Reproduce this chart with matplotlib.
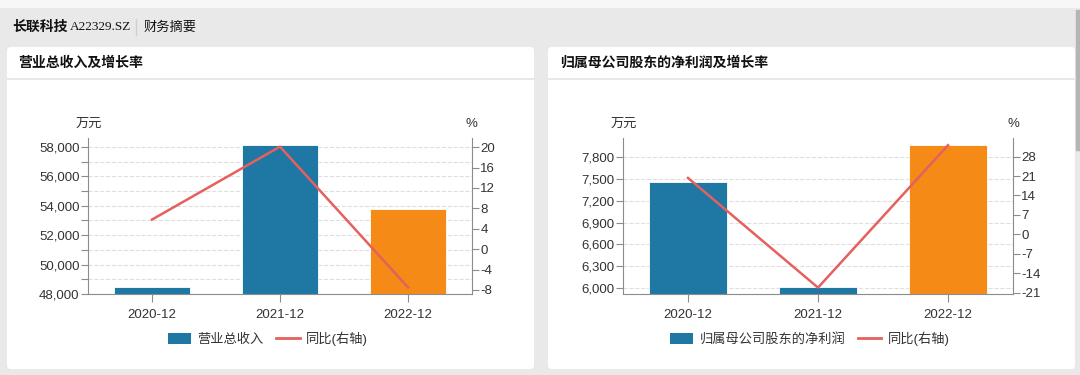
import matplotlib.pyplot as plt
import matplotlib.patches as mpatches
from matplotlib.patches import FancyBboxPatch, Patch
from matplotlib.lines import Line2D
from matplotlib.ticker import MultipleLocator, FuncFormatter

plt.rcParams['font.family'] = ['Liberation Sans', 'Noto Sans CJK SC', 'DejaVu Sans']
plt.rcParams['axes.unicode_minus'] = False

# datos
anios = ['2020-12', '2021-12', '2022-12']
ingresos = [48500, 58140, 53780]          # 万元
ingresos_yoy = [5.8, 20.1, -7.5]          # %
utilidad = [7449, 6022, 7956]             # 万元
utilidad_yoy = [20.3, -19.2, 32.1]        # %

AZUL = '#1f77a4'
NARANJA = '#f58a17'
ROJO = '#e5605e'
GRIS = '#8c8c8c'
TEXTO = '#333333'

W, H = 1080, 375
fig = plt.figure(figsize=(W / 100, H / 100), dpi=100)

# fondo en coordenadas de pixel
bg = fig.add_axes([0, 0, 1, 1], zorder=-1)
bg.set_xlim(0, W)
bg.set_ylim(H, 0)
bg.axis('off')
bg.add_patch(mpatches.Rectangle((0, 0), W, H, color='#e9e9e9'))
bg.add_patch(mpatches.Rectangle((0, 0), W, 7, color='#f7f7f7'))
bg.add_patch(mpatches.Rectangle((1076, 10), 4, 140, color='#b5b5b5'))
for x0, x1 in [(7, 534), (548, 1075)]:
    bg.add_patch(FancyBboxPatch((x0, 47), x1 - x0, 322, boxstyle='round,pad=0,rounding_size=4',
                                fc='white', ec='none'))
    bg.plot([x0, x1], [78.5, 78.5], color='#e4e4e4', lw=1.2)

bg.text(12, 27, '长联科技', fontsize=10, fontweight='bold', family='Noto Sans CJK SC',
        va='center', color='#111')
bg.text(70, 27, 'A22329.SZ', fontsize=9.5, family='Liberation Serif', va='center', color='#111')
bg.plot([136, 136], [19, 35], color='#d0d0d0', lw=1)
bg.text(144, 27, '财务摘要', fontsize=9.5, family='Noto Sans CJK SC', va='center', color='#111')
bg.text(18, 63, '营业总收入及增长率', fontsize=10, fontweight='bold', family='Noto Sans CJK SC',
        va='center', color='#111')
bg.text(560, 63, '归属母公司股东的净利润及增长率', fontsize=10, fontweight='bold',
        family='Noto Sans CJK SC', va='center', color='#111')


def px_axes(x0, x1, y0, y1):
    return fig.add_axes([x0 / W, 1 - y1 / H, (x1 - x0) / W, (y1 - y0) / H])


def grafico(x0, x1, valores, yoy, ylim, ylim2, major, minor, ticks2, nombre, leg_x):
    ax = px_axes(x0, x1, 138, 294)
    xs = range(len(anios))
    colores = [AZUL] * (len(valores) - 1) + [NARANJA]
    ax.bar(xs, valores, width=0.6, color=colores, edgecolor='white', linewidth=0.6, zorder=2)
    ax.set_xlim(-0.5, len(anios) - 0.5)
    ax.set_ylim(*ylim)
    ax.yaxis.set_major_locator(MultipleLocator(major))
    ax.yaxis.set_minor_locator(MultipleLocator(minor))
    ax.yaxis.set_major_formatter(FuncFormatter(lambda v, p: f'{v:,.0f}'))
    ax.grid(axis='y', which='both', color='#dedede', linestyle='--', linewidth=0.8, zorder=0)
    ax.set_xticks(list(xs))
    ax.set_xticklabels(anios)
    ax.tick_params(axis='both', which='both', colors=GRIS, labelcolor=TEXTO, labelsize=9.5,
                   length=5, width=0.8)
    ax.tick_params(axis='x', length=6, pad=5)
    ax.tick_params(axis='y', pad=1)
    for s in ['top', 'right']:
        ax.spines[s].set_visible(False)
    for s in ['left', 'bottom']:
        ax.spines[s].set_color(GRIS)
        ax.spines[s].set_linewidth(0.8)

    ax2 = ax.twinx()
    ax2.plot(list(xs), yoy, color=ROJO, lw=1.8, zorder=3)
    ax2.set_ylim(*ylim2)
    ax2.set_yticks(ticks2)
    ax2.tick_params(axis='y', colors=GRIS, labelcolor=TEXTO, labelsize=9.5, length=5, width=0.8, pad=1)
    for s in ['top', 'left', 'bottom']:
        ax2.spines[s].set_visible(False)
    ax2.spines['right'].set_color(GRIS)
    ax2.spines['right'].set_linewidth(0.8)

    bg.text(x0 - 12, 124, '万元', fontsize=9.5, ha='left', va='center', color=TEXTO)
    bg.text(x1 - 6, 124, '%', fontsize=9.5, ha='left', va='center', color=TEXTO)

    handles = [Patch(facecolor=AZUL, edgecolor='none'), Line2D([], [], color=ROJO, lw=2)]
    ax2.legend(handles, [nombre, '同比(右轴)'], loc='center', ncol=2, frameon=False,
               bbox_to_anchor=(leg_x, 339), bbox_transform=bg.transData,
               fontsize=9.5, handlelength=1.75, handleheight=0.9, handletextpad=0.5,
               columnspacing=0.95, labelcolor=TEXTO)


grafico(88, 472, ingresos, ingresos_yoy, (48000, 58610), (-8.8, 21.8), 2000, 1000,
        list(range(-8, 21, 4)), '营业总收入', 268)
grafico(623, 1013, utilidad, utilidad_yoy, (5922, 8056), (-21.5, 34.7), 300, 300,
        list(range(-21, 29, 7)), '归属母公司股东的净利润', 810)

fig.savefig('out.png', dpi=100)
